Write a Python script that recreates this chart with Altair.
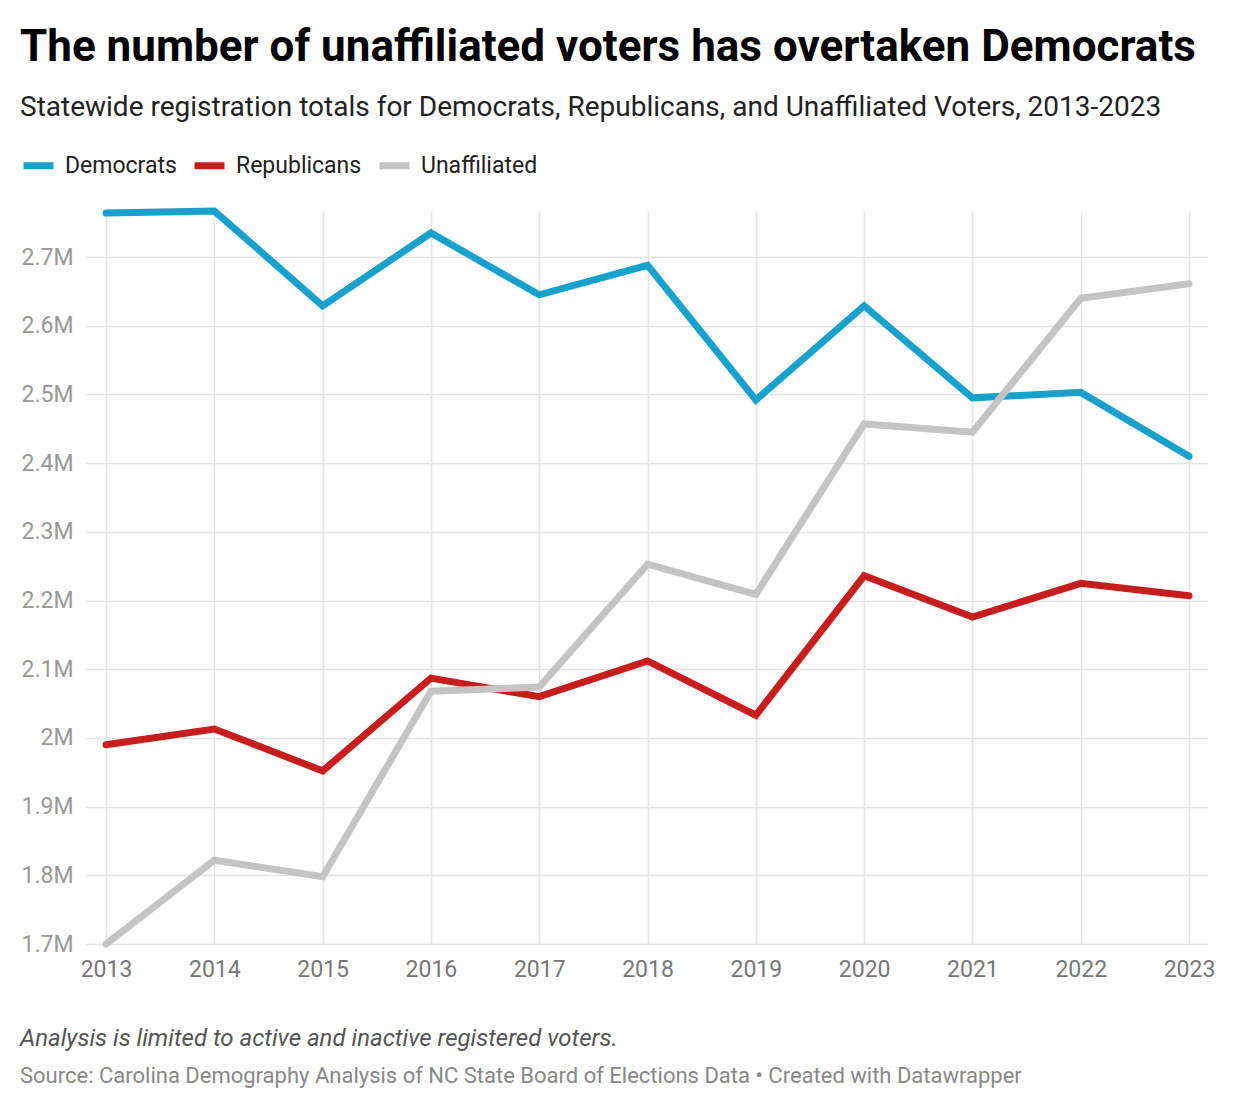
import altair as alt
import pandas as pd

years = list(range(2013, 2024))
democrats = [2764000, 2767000, 2629000, 2735000, 2645000, 2688000, 2492000, 2629000, 2495000, 2503000, 2410000]
republicans = [1990000, 2013000, 1952000, 2087000, 2060000, 2112000, 2033000, 2236000, 2176000, 2225000, 2207000]
unaffiliated = [1700000, 1822000, 1798000, 2068000, 2074000, 2253000, 2209000, 2457000, 2445000, 2640000, 2661000]

series_names = ["Democrats", "Republicans", "Unaffiliated"]
series_colors = ["#18a1cd", "#c71e1d", "#c4c4c4"]
y_ticks = [1700000, 1800000, 1900000, 2000000, 2100000, 2200000, 2300000, 2400000, 2500000, 2600000, 2700000]

title_text = "The number of unaffiliated voters has overtaken Democrats"
subtitle_text = "Statewide registration totals for Democrats, Republicans, and Unaffiliated Voters, 2013-2023"
note_text = ["Analysis is limited to active and inactive registered voters."]
source_text = ["Source: Carolina Demography Analysis of NC State Board of Elections Data • Created with Datawrapper"]

rows = []
for name, vals in zip(series_names, [democrats, republicans, unaffiliated]):
    for yr, v in zip(years, vals):
        rows.append({"year": yr, "voters": v, "party": name})
df = pd.DataFrame(rows)

W, H = 1122, 733

lines = alt.Chart(df).mark_line(strokeWidth=7, strokeCap="round", strokeJoin="miter").encode(
    x=alt.X("year:Q",
            scale=alt.Scale(domain=[2012.815, 2023.175], nice=False, zero=False),
            axis=alt.Axis(values=years, format="d", title=None, grid=True, gridColor="#e3e3e3",
                          gridWidth=1.5, domain=False, ticks=False, labelFontSize=23,
                          labelColor="#777777", labelPadding=14, labelFont="Roboto")),
    y=alt.Y("voters:Q",
            scale=alt.Scale(domain=[1700000, 2767000], nice=False, zero=False),
            axis=alt.Axis(values=y_ticks, title=None, grid=True, gridColor="#e3e3e3", gridWidth=1.5,
                          domain=False, ticks=False, labelFontSize=23, labelColor="#999999",
                          labelPadding=13, labelFont="Roboto",
                          labelExpr="format(datum.value/1000000, '.1~f') + 'M'")),
    color=alt.Color("party:N",
                    scale=alt.Scale(domain=series_names, range=series_colors),
                    sort=series_names,
                    legend=alt.Legend(title=None, orient="none", direction="horizontal",
                                      legendX=-66, legendY=-64, symbolType="stroke",
                                      symbolStrokeWidth=7, symbolSize=900, labelFontSize=23,
                                      labelColor="#222222", labelFont="Roboto", labelOffset=8,
                                      columnPadding=3)),
    order="year:Q",
)

note = alt.Chart(pd.DataFrame({"t": note_text})).mark_text(
    align="left", baseline="middle", fontSize=24, fontStyle="italic", font="Roboto", color="#555555"
).encode(text="t:N", x=alt.value(-66), y=alt.value(828))

source = alt.Chart(pd.DataFrame({"t": source_text})).mark_text(
    align="left", baseline="middle", fontSize=22, font="Roboto", color="#888888"
).encode(text="t:N", x=alt.value(-66), y=alt.value(865))

chart = alt.layer(lines, note, source).properties(
    width=W, height=H,
    title=alt.TitleParams(title_text, subtitle=subtitle_text, anchor="start", frame="bounds",
                          fontSize=44, font="Roboto", fontWeight="bold", color="#000000",
                          subtitleFontSize=28, subtitleFont="Roboto", subtitleColor="#222222",
                          subtitlePadding=24, offset=25),
    padding={"left": 12, "top": 18, "right": 4, "bottom": 6},
).configure_view(stroke=None)

chart.save("out.html", embed_options={"renderer": "svg", "actions": False})
